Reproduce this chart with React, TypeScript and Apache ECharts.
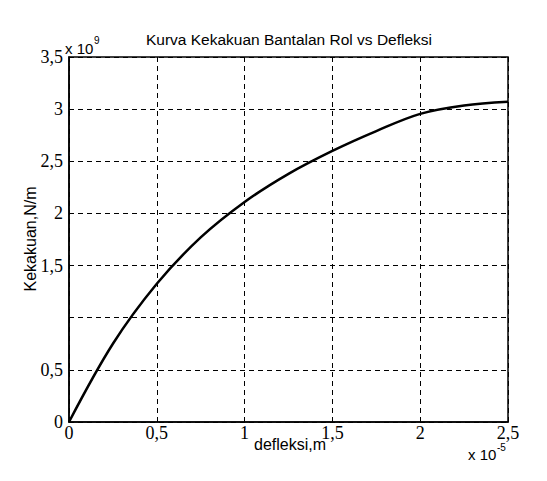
import React, { useEffect, useRef } from "react";
import * as echarts from "echarts";

// Deflection in units of 1e-5 m, stiffness in units of 1e9 N/m
const deflection = [0, 0.25, 0.5, 0.75, 1.0, 1.25, 1.5, 1.75, 2.0, 2.25, 2.5];
const stiffness = [0, 0.75, 1.325, 1.77, 2.11, 2.38, 2.6, 2.79, 2.955, 3.035, 3.07];
const yTickLabels: Record<string, string> = {
  "0": "0", "0.5": "0,5", "1": "", "1.5": "1,5", "2": "2", "2.5": "2,5", "3": "3", "3.5": "3,5",
};
const xTickLabels: Record<string, string> = {
  "0": "0", "0.5": "0,5", "1": "1", "1.5": "1,5", "2": "2", "2.5": "2,5",
};

const serif = "'Liberation Serif', 'Times New Roman', serif";
const sans = "'Liberation Sans', Arial, sans-serif";

const plainText = (text: string, x: number, y: number, size: number, align = "left", rotation = 0) => ({
  type: "text",
  x,
  y,
  rotation,
  style: { text, fontFamily: sans, fontSize: size, fill: "#000", align, verticalAlign: "middle" },
});

export default function App() {
  const ref = useRef<HTMLDivElement>(null);
  useEffect(() => {
    document.body.style.margin = "0";
    if (!ref.current) return;
    const chart = echarts.init(ref.current, null, { renderer: "svg" });
    const gridLine = { show: true, lineStyle: { color: "#000", type: [5, 4] as any, width: 1 } };
    chart.setOption({
      animation: false,
      backgroundColor: "#fff",
      title: {
        text: "Kurva Kekakuan Bantalan Rol vs Defleksi",
        left: 284,
        textAlign: "center",
        top: 26,
        textStyle: { fontFamily: sans, fontSize: 15.5, fontWeight: "normal", color: "#000" },
      },
      grid: { left: 69, right: 39, top: 57, bottom: 59, show: true, borderColor: "#000", borderWidth: 1.5, backgroundColor: "transparent" },
      xAxis: {
        type: "value",
        min: 0,
        max: 2.5,
        interval: 0.5,
        axisLine: { show: true, lineStyle: { color: "#000", width: 1.5 } },
        axisTick: { show: false },
        splitLine: gridLine,
        axisLabel: {
          fontFamily: serif,
          fontSize: 18,
          lineHeight: 16,
          color: "#000",
          margin: 3,
          formatter: (v: number) => xTickLabels[String(v)] ?? "",
        },
      },
      yAxis: {
        type: "value",
        min: 0,
        max: 3.5,
        interval: 0.5,
        axisLine: { show: true, lineStyle: { color: "#000", width: 1.5 } },
        axisTick: { show: false },
        splitLine: gridLine,
        axisLabel: {
          fontFamily: serif,
          fontSize: 18,
          color: "#000",
          margin: 6,
          formatter: (v: number) => yTickLabels[String(v)] ?? "",
        },
      },
      graphic: [
        // axis titles
        plainText("defleksi,m", 290, 444, 16, "center"),
        plainText("Kekakuan,N/m", 30, 239, 16, "center", Math.PI / 2),
        // y scale factor: x 10^9
        plainText("x 10", 65, 48, 15),
        plainText("9", 94, 40, 10),
        // x scale factor: x 10^-5
        plainText("x 10", 468, 454, 15),
        plainText("-5", 497, 447, 10),
      ],
      series: [
        {
          type: "line",
          data: deflection.map((x, i) => [x, stiffness[i]]),
          smooth: 0.35,
          showSymbol: false,
          lineStyle: { color: "#000", width: 2.5 },
        },
      ],
    });
    return () => chart.dispose();
  }, []);
  return <div ref={ref} style={{ width: 547, height: 481 }} />;
}
